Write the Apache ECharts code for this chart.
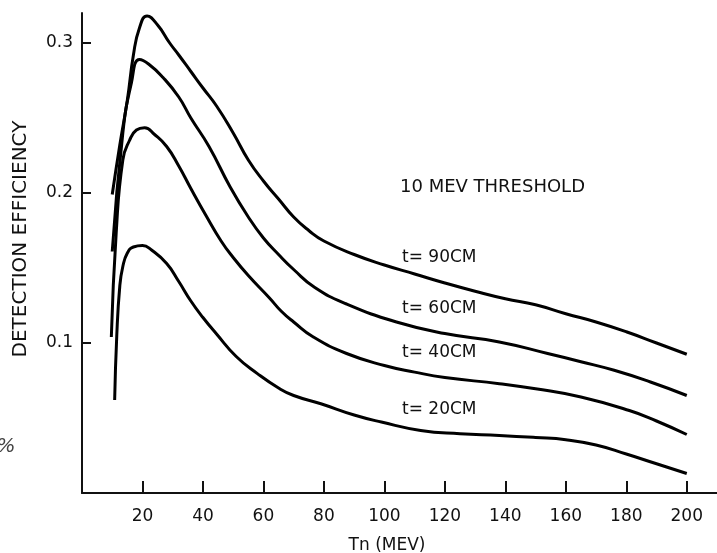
<!DOCTYPE html>
<html><head><meta charset="utf-8">
<script src="https://cdn.jsdelivr.net/npm/echarts@6/dist/echarts.min.js"></script>
<style>html,body{margin:0;padding:0;background:#fff}#c{width:717px;height:553px}</style>
</head><body><div id="c"></div>
<script>
// ---- data ----
const xTicks = [20, 40, 60, 80, 100, 120, 140, 160, 180, 200];
const yTicks = [0.1, 0.2, 0.3];

const t90Energy = [10, 12.5, 15, 17, 19, 21.5, 25, 29, 32, 36, 40, 44.5, 50, 55, 60, 65, 70, 75, 80, 90, 100, 110, 120, 130, 140, 150, 160, 170, 180, 190, 200];
const t90Eff    = [0.199, 0.232, 0.262, 0.292, 0.310, 0.318, 0.312, 0.300, 0.292, 0.281, 0.270, 0.258, 0.240, 0.222, 0.208, 0.196, 0.184, 0.175, 0.168, 0.159, 0.152, 0.146, 0.140, 0.1345, 0.1295, 0.1255, 0.1195, 0.114, 0.1075, 0.100, 0.0925];

const t60Energy = [10, 13.5, 16.3, 19, 22, 26.8, 32, 36, 42, 49, 55, 60, 65, 70, 77, 87.5, 104, 120, 138, 154, 165, 176, 188, 200];
const t60Eff    = [0.161, 0.240, 0.273, 0.289, 0.286, 0.277, 0.264, 0.250, 0.231, 0.204, 0.184, 0.170, 0.159, 0.149, 0.137, 0.126, 0.114, 0.1063, 0.1007, 0.093, 0.0875, 0.0818, 0.074, 0.065];

const t40Energy = [9.7, 11.3, 13.5, 15.7, 18, 20.7, 24, 28, 32, 36, 41, 46, 50, 55, 62, 66, 70, 76.5, 87.5, 100, 110, 120, 138, 150, 165, 181, 190, 200];
const t40Eff    = [0.104, 0.173, 0.222, 0.235, 0.242, 0.2435, 0.239, 0.231, 0.218, 0.203, 0.185, 0.168, 0.157, 0.145, 0.130, 0.121, 0.114, 0.104, 0.093, 0.085, 0.0806, 0.077, 0.0729, 0.0695, 0.064, 0.055, 0.048, 0.039];

const t20Energy = [10.8, 11.5, 12.5, 13.5, 15, 17, 20, 23, 28, 32, 36, 40, 44.5, 51, 58, 65, 70, 79, 90, 99, 112, 125, 138, 150, 160, 170, 180, 190, 200];
const t20Eff    = [0.062, 0.105, 0.138, 0.151, 0.160, 0.164, 0.165, 0.162, 0.153, 0.141, 0.128, 0.117, 0.106, 0.091, 0.0796, 0.070, 0.065, 0.0595, 0.052, 0.0473, 0.0417, 0.0395, 0.0384, 0.037, 0.0355, 0.032, 0.026, 0.0195, 0.013];

const curveNames = ['t= 90CM', 't= 60CM', 't= 40CM', 't= 20CM'];
const thresholdText = '10 MEV THRESHOLD';
const xTitle = 'Tn (MEV)';
const yTitle = 'DETECTION EFFICIENCY';

// ---- chart ----
const FONT = 'DejaVu Sans';
const zip = (xs, ys) => xs.map((x, i) => [x, ys[i]]);
const curves = [
  zip(t90Energy, t90Eff),
  zip(t60Energy, t60Eff),
  zip(t40Energy, t40Eff),
  zip(t20Energy, t20Eff)
];

const chart = echarts.init(document.getElementById('c'), null, {renderer: 'canvas'});
const txt = (text, x, y, size) => ({
  type: 'text', x: x, y: y,
  style: {text: text, font: size + 'px "' + FONT + '"', fill: '#111', align: 'left', verticalAlign: 'middle'}
});

chart.setOption({
  backgroundColor: '#fff',
  animation: false,
  grid: {left: 82, right: 0, top: 13, bottom: 60, containLabel: false},
  xAxis: {
    type: 'value', min: 0, max: 210,
    axisLine: {show: true, lineStyle: {color: '#111', width: 2}},
    axisTick: {show: true, inside: true, length: 12, lineStyle: {color: '#111', width: 2}, customValues: xTicks},
    axisLabel: {show: true, margin: 15, color: '#111', fontFamily: FONT, fontSize: 17, customValues: xTicks},
    splitLine: {show: false}
  },
  yAxis: {
    type: 'value', min: 0, max: 0.32,
    axisLine: {show: true, onZero: false, lineStyle: {color: '#111', width: 2}},
    axisTick: {show: true, inside: true, length: 9, lineStyle: {color: '#111', width: 2}, customValues: yTicks},
    axisLabel: {show: true, margin: 9, color: '#111', fontFamily: FONT, fontSize: 17, customValues: yTicks,
      formatter: v => v.toFixed(1)},
    splitLine: {show: false}
  },
  series: curves.map((d, i) => ({
    name: curveNames[i], type: 'line', data: d, showSymbol: false,
    smooth: 0.5,
    lineStyle: {color: '#000', width: 3}
  })),
  graphic: [
    txt(thresholdText, 400, 187, 18),
    txt(curveNames[0], 402, 258, 17),
    txt(curveNames[1], 402, 309, 17),
    txt(curveNames[2], 402, 353, 17),
    txt(curveNames[3], 402, 410, 17),
    {type: 'text', x: 387, y: 546,
      style: {text: xTitle, font: '17px "' + FONT + '"', fill: '#111', align: 'center', verticalAlign: 'middle'}},
    {type: 'text', x: 21, y: 239, rotation: Math.PI / 2,
      style: {text: yTitle, font: '20px "' + FONT + '"', fill: '#111', align: 'center', verticalAlign: 'middle'}},
    {type: 'text', x: 6, y: 447,
      style: {text: '%', font: 'italic 200 20px "' + FONT + '"', fill: '#444', align: 'center', verticalAlign: 'middle'}}
  ]
});
</script>
</body></html>
